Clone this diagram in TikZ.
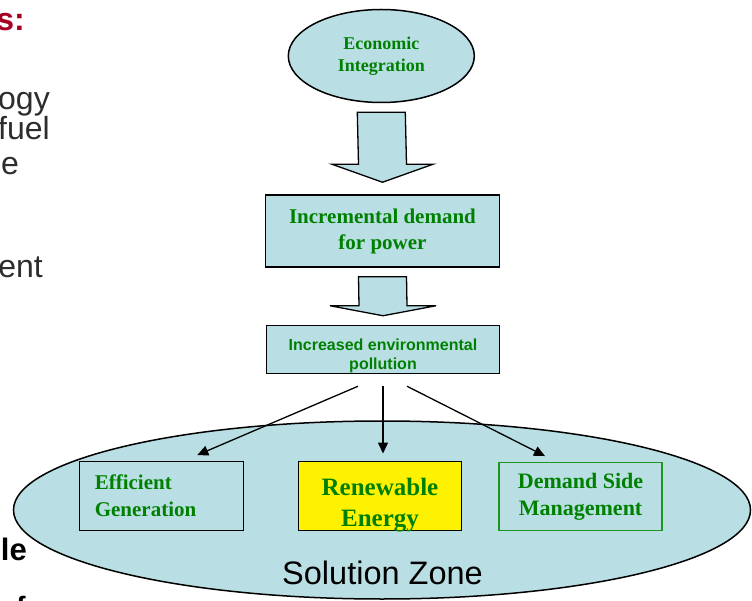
\documentclass[tikz,border=0pt]{standalone}
\usepackage{fontspec}
\setmainfont{Liberation Serif}
\setsansfont{Liberation Sans}
\usetikzlibrary{shapes.geometric,arrows.meta,calc}
\definecolor{zonebg}{RGB}{185,223,228}
\definecolor{leafgreen}{RGB}{0,128,0}
\definecolor{edgegreen}{RGB}{30,150,30}
\definecolor{slidered}{RGB}{165,0,33}
\definecolor{slidegray}{RGB}{45,45,45}
\newcommand{\fs}[2]{\fontsize{#1}{#2}\selectfont}

\begin{document}
\begin{tikzpicture}[x=1pt, y=-1pt,
    every node/.style={inner sep=0pt, align=center},
    stage/.style={draw=black, line width=1.5pt, fill=zonebg},
    leaf/.style={draw=black, line width=1.3pt, minimum width=163, minimum height=69},
    cut/.style={anchor=base east, text=slidegray, font=\sffamily\fs{32}{32}},
    fatarrow/.style={draw=black, line width=1.3pt, fill=zonebg},
    thin/.style={line width=1.3pt, -{Triangle[length=11pt,width=10pt]}}]
  \useasboundingbox (0,0) rectangle (752,601);

  % slide text cut off by the left edge
  \node[cut, text=slidered, font=\sffamily\bfseries\fs{32}{32}] (s1) at (25,31) {s:};
  \node[cut] (s2) at (50,110) {ogy};
  \node[cut] (s3) at (50,140) {fuel};
  \node[cut] (s4) at (19,175) {e};
  \node[cut] (s5) at (43,278) {ent};
  \node[cut, text=black, font=\sffamily\bfseries\fs{31}{31}] (s6) at (27,560) {le};
  \node[cut, text=black, font=\sffamily\bfseries\fs{28}{28}] (s7) at (26,616) {f};

  % solution zone
  \node[stage, ellipse, minimum width=737, minimum height=178] (zone) at (382,510) {};
  \node[anchor=base, font=\sffamily\fs{32.5}{32}] (zonetxt) at (382.5,584) {Solution Zone};

  % chain
  \node[stage, ellipse, minimum width=186, minimum height=93, text=leafgreen,
        font=\bfseries\fs{18}{22}] (econ) at (381.3,56) {Economic\\Integration};
  \node[stage, minimum width=234, minimum height=72, text=leafgreen,
        font=\bfseries\fs{21}{26}] (demand) at (382.5,231) {Incremental demand\\for power};
  \node[stage, minimum width=233, minimum height=48] (pollut) at (383,349.5) {};
  \node[text=leafgreen, font=\sffamily\bfseries\fs{16}{19}] (pollutxt) at (383,356)
       {Increased environmental\\pollution};

  \foreach \src/\dst/\gap/\head/\hw in {econ/demand/12/18/50.5, demand/pollut/9/10/53} {
    \draw[fatarrow] ($(\src.south)+(-24,9)$) -- ($(\src.south)+(24,9)$)
      -- ($(\dst.north)+(24,-\gap-\head)$) -- ($(\dst.north)+(\hw,-\gap-\head)$)
      -- ($(\dst.north)+(0,-\gap)$) -- ($(\dst.north)+(-\hw,-\gap-\head)$)
      -- ($(\dst.north)+(-24,-\gap-\head)$) -- cycle;
  }

  % solutions
  \node[leaf, text width=134, inner xsep=15, align=left, text=leafgreen,
        font=\bfseries\fs{21}{27}] (effic) at (161.8,496.2) {Efficient\\Generation};
  \node[leaf, fill=yellow] (renew) at (380.1,496.2) {};
  \node[text=leafgreen, font=\bfseries\fs{25}{31}] (renewtxt) at (380,505) {Renewable\\Energy};
  \node[leaf, draw=edgegreen, minimum height=68, text=leafgreen,
        font=\bfseries\fs{22}{27}] (dsm) at (580.6,496.7) {Demand Side\\Management};

  \draw[thin] ([shift={(-25,12)}]pollut.south) -- ([shift={(35.5,-6)}]effic.north);
  \draw[thin] ([shift={(0,12)}]pollut.south) -- ($(pollut.south |- renew.north)+(0,-7.5)$);
  \draw[thin] ([shift={(24,12)}]pollut.south) -- ([shift={(-35.6,-6)}]dsm.north);
\end{tikzpicture}
\end{document}
